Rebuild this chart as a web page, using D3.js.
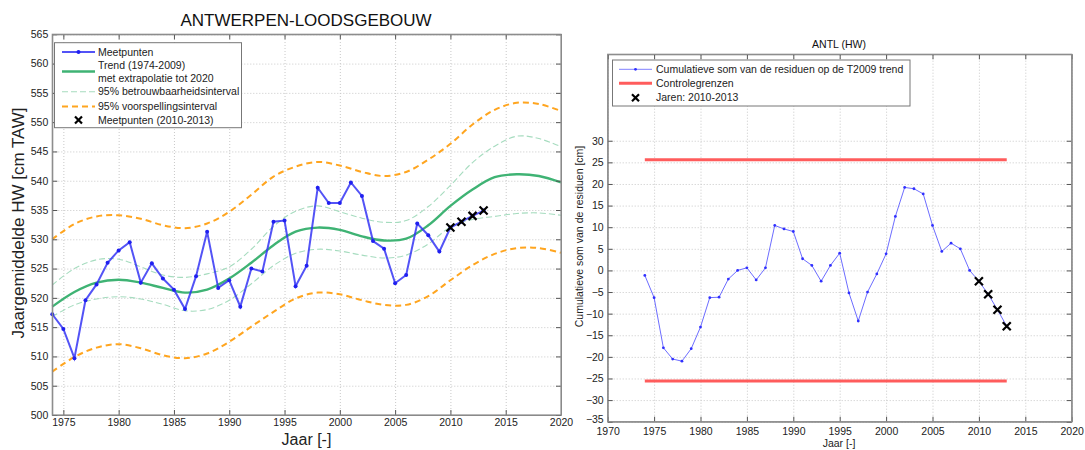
<!DOCTYPE html>
<html><head><meta charset="utf-8">
<script src="https://cdn.jsdelivr.net/npm/d3@7"></script>
<style>
body{margin:0;background:#fff;}
svg{font-family:"Liberation Sans",Arial,sans-serif;}
.grid line{stroke:#c8c8c8;stroke-dasharray:1,2;}
.grid path{display:none;}
.ax path{stroke:#8a8a8a;}
.ax line{stroke:#555;}
.ax text{fill:#222;}
</style></head><body>
<svg id="c" width="1085" height="450"></svg>
<script>
// ---- Left chart data ----
const measYears = [1974,1975,1976,1977,1978,1979,1980,1981,1982,1983,1984,1985,1986,1987,1988,1989,1990,1991,1992,1993,1994,1995,1996,1997,1998,1999,2000,2001,2002,2003,2004,2005,2006,2007,2008,2009,2010,2011,2012,2013];
const measValues = [517.2,514.7,509.7,519.6,522.3,526.0,528.1,529.5,522.6,525.9,523.3,521.4,518.1,523.7,531.3,521.7,523.0,518.5,525.0,524.5,533.0,533.2,522.0,525.5,538.8,536.2,536.2,539.7,537.4,529.7,528.4,522.5,523.9,532.7,530.7,527.9,532.0,533.0,534.0,534.9];
const newYears = [2010,2011,2012,2013];
const newValues = [532.0,533.0,534.0,534.9];
const curveYears = [1974,1976,1978,1980,1982,1984,1986,1988,1990,1992,1994,1996,1998,2000,2002,2004,2006,2008,2010,2012,2014,2016,2018,2020];
const trendValues = [518.5,521.0,522.6,523.1,522.6,521.7,520.9,521.4,523.3,526.0,529.0,531.3,532.0,531.6,530.5,529.8,530.1,532.4,535.7,538.5,540.6,541.1,540.8,539.7];
const ciUpper = [522.2,525.0,526.5,526.6,525.3,523.9,523.5,524.1,525.3,528.3,532.2,534.8,535.7,534.7,533.6,532.9,533.2,535.6,539.2,543.1,545.9,547.6,547.2,545.8];
const ciLower = [516.8,518.8,519.8,520.2,519.8,518.9,517.8,518.0,519.6,522.4,525.5,527.6,528.3,528.0,527.3,526.8,527.3,529.2,532.1,533.4,533.9,534.4,534.5,534.1];
const piUpper = [530.0,532.6,533.9,534.1,533.5,532.4,531.9,532.7,534.7,537.6,540.7,542.4,543.2,542.6,541.5,540.8,541.5,543.6,546.3,549.6,552.1,553.3,553.1,551.9];
const piLower = [507.4,509.9,511.5,512.1,511.4,510.2,509.7,510.5,512.5,515.1,517.6,519.9,520.9,520.6,519.6,518.8,518.8,520.3,523.0,525.6,527.5,528.5,528.5,527.7];
const leftYTicks = [500,505,510,515,520,525,530,535,540,545,550,555,560,565];
const leftXTicks = [1975,1980,1985,1990,1995,2000,2005,2010,2015,2020];

// ---- Right chart data ----
const cusumYears = measYears;
const cusumValues = [-1.15,-6.3,-17.9,-20.5,-21.0,-18.1,-13.1,-6.3,-6.2,-2.0,0.0,0.6,-2.2,0.6,10.4,9.6,9.0,2.7,1.15,-2.5,1.15,4.0,-5.2,-11.7,-5.0,-0.8,3.85,12.5,19.2,18.9,17.7,10.4,4.4,6.3,5.0,0.0,-2.5,-5.5,-9.1,-12.9];
const cusumNewYears = [2010,2011,2012,2013];
const cusumNewValues = [-2.5,-5.5,-9.1,-12.9];
const controlYears = [1974,2013];
const controlLimits = [25.6,-25.6];
const rightYTicks = [-35,-30,-25,-20,-15,-10,-5,0,5,10,15,20,25,30];
const rightXTicks = [1970,1975,1980,1985,1990,1995,2000,2005,2010,2015,2020];

const svg = d3.select("#c");

function frame(g, x, y, xt, yt){
  const [x0,x1] = x.range(), [y0,y1] = y.range();
  g.append("g").attr("class","grid").attr("transform",`translate(0,${y0})`)
    .call(d3.axisBottom(x).tickValues(xt).tickSize(-(y0-y1)).tickFormat(""));
  g.append("g").attr("class","grid").attr("transform",`translate(${x0},0)`)
    .call(d3.axisLeft(y).tickValues(yt).tickSize(-(x1-x0)).tickFormat(""));
}
function axes(g, x, y, xt, yt, fs, xpad){
  const [x0,x1] = x.range(), [y0,y1] = y.range();
  const b = g.append("g").attr("class","ax").attr("transform",`translate(0,${y0})`)
    .call(d3.axisBottom(x).tickValues(xt).tickSizeInner(-5).tickSizeOuter(0).tickPadding(xpad).tickFormat(d3.format("d")));
  b.selectAll("text").style("font-size",fs+"px");
  const l = g.append("g").attr("class","ax").attr("transform",`translate(${x0},0)`)
    .call(d3.axisLeft(y).tickValues(yt).tickSizeInner(-5).tickSizeOuter(0).tickPadding(4));
  l.selectAll("text").style("font-size",fs+"px");
  g.append("g").attr("class","ax").attr("transform",`translate(0,${y1})`)
    .call(d3.axisTop(x).tickValues(xt).tickSizeInner(-5).tickSizeOuter(0).tickFormat(""));
  g.append("g").attr("class","ax").attr("transform",`translate(${x1},0)`)
    .call(d3.axisRight(y).tickValues(yt).tickSizeInner(-5).tickSizeOuter(0).tickFormat(""));
  g.append("rect").attr("x",x0).attr("y",y1).attr("width",x1-x0).attr("height",y0-y1)
    .attr("fill","none").attr("stroke","#8a8a8a").attr("stroke-width",1.2);
  return {b,l};
}

// ===== LEFT =====
const xL = d3.scaleLinear().domain([1974,2020]).range([52.3,561]);
const yL = d3.scaleLinear().domain([500,565]).range([415,34.3]);
const gL = svg.append("g");
frame(gL, xL, yL, leftXTicks, leftYTicks);
const cl = gL.append("g");
const curve = d3.curveCatmullRom.alpha(0.5);
const lineC = (vals) => d3.line().x((d,i)=>xL(curveYears[i])).y(d=>yL(d)).curve(curve)(vals);
[piUpper,piLower].forEach(v=>cl.append("path").attr("d",lineC(v)).attr("fill","none")
  .attr("stroke","#ffa51f").attr("stroke-width",2).attr("stroke-dasharray","6,4"));
[ciUpper,ciLower].forEach(v=>cl.append("path").attr("d",lineC(v)).attr("fill","none")
  .attr("stroke","#a6dcbf").attr("stroke-width",1.1).attr("stroke-dasharray","6,3"));
cl.append("path").attr("d",lineC(trendValues)).attr("fill","none")
  .attr("stroke","#3fb374").attr("stroke-width",2.4);
cl.append("path").attr("d",d3.line().x((d,i)=>xL(measYears[i])).y(d=>yL(d))(measValues))
  .attr("fill","none").attr("stroke","#3535f5").attr("stroke-width",2).attr("stroke-opacity",0.85);
cl.selectAll("circle.m").data(measValues).join("circle").attr("class","m")
  .attr("cx",(d,i)=>xL(measYears[i])).attr("cy",d=>yL(d)).attr("r",2).attr("fill","#2020f0");
function xMark(g, cx, cy, s, w){
  g.append("path").attr("d",`M${cx-s},${cy-s}L${cx+s},${cy+s}M${cx-s},${cy+s}L${cx+s},${cy-s}`)
    .attr("stroke","#000").attr("stroke-width",w).attr("fill","none");
}
newValues.forEach((v,i)=>xMark(cl, xL(newYears[i]), yL(v), 4, 2.2));
axes(gL, xL, yL, leftXTicks, leftYTicks, 10.5, 4);

// left legend
const lg = gL.append("g");
lg.append("rect").attr("x",54.5).attr("y",42.7).attr("width",187).attr("height",85)
  .attr("fill","#fff").attr("stroke","#777").attr("stroke-width",1);
const lx0 = 62, lx1 = 95, tx = 98;
const lt = (y, t) => lg.append("text").attr("x",tx).attr("y",y).attr("dy","0.35em").style("font-size","10.5px").attr("fill","#222").text(t);
lg.append("line").attr("x1",lx0).attr("x2",lx1).attr("y1",52).attr("y2",52).attr("stroke","#3535f5").attr("stroke-width",2).attr("stroke-opacity",0.85);
lg.append("circle").attr("cx",(lx0+lx1)/2).attr("cy",52).attr("r",2).attr("fill","#2020f0");
lt(52,"Meetpunten");
lg.append("line").attr("x1",lx0).attr("x2",lx1).attr("y1",71.5).attr("y2",71.5).attr("stroke","#3fb374").attr("stroke-width",2.4);
lt(65.7,"Trend (1974-2009)"); lt(78.3,"met extrapolatie tot 2020");
lg.append("line").attr("x1",lx0).attr("x2",lx1).attr("y1",91.7).attr("y2",91.7).attr("stroke","#a6dcbf").attr("stroke-width",1.1).attr("stroke-dasharray","6,3");
lt(91.7,"95% betrouwbaarheidsinterval");
lg.append("line").attr("x1",lx0).attr("x2",lx1).attr("y1",106.5).attr("y2",106.5).attr("stroke","#ffa51f").attr("stroke-width",2).attr("stroke-dasharray","6,4");
lt(106.5,"95% voorspellingsinterval");
xMark(lg, (lx0+lx1)/2, 120, 3.5, 2.2);
lt(120,"Meetpunten (2010-2013)");

svg.append("text").attr("x",306).attr("y",26).attr("text-anchor","middle").style("font-size","17px").attr("fill","#111").text("ANTWERPEN-LOODSGEBOUW");
svg.append("text").attr("x",306.5).attr("y",444.5).attr("text-anchor","middle").style("font-size","16px").attr("fill","#222").text("Jaar [-]");
svg.append("text").attr("transform","translate(24,223) rotate(-90)").attr("text-anchor","middle").style("font-size","17px").attr("fill","#222").text("Jaargemiddelde HW [cm TAW]");

// ===== RIGHT =====
const xR = d3.scaleLinear().domain([1970,2020]).range([607.7,1071.7]);
const yR = d3.scaleLinear().domain([-35,50]).range([421.7,54.3]);
const gR = svg.append("g");
frame(gR, xR, yR, rightXTicks, rightYTicks);
const cr = gR.append("g");
controlLimits.forEach(v=>cr.append("line").attr("x1",xR(controlYears[0])).attr("x2",xR(controlYears[1]))
  .attr("y1",yR(v)).attr("y2",yR(v)).attr("stroke","#ff5c5c").attr("stroke-width",3));
cr.append("path").attr("d",d3.line().x((d,i)=>xR(cusumYears[i])).y(d=>yR(d))(cusumValues))
  .attr("fill","none").attr("stroke","#5c5cff").attr("stroke-width",1).attr("stroke-opacity",0.9);
cr.selectAll("circle").data(cusumValues).join("circle")
  .attr("cx",(d,i)=>xR(cusumYears[i])).attr("cy",d=>yR(d)).attr("r",1.4).attr("fill","#3030ff");
cusumNewValues.forEach((v,i)=>xMark(cr, xR(cusumNewYears[i]), yR(v), 4, 2.2));
const rAx = axes(gR, xR, yR, rightXTicks, rightYTicks, 10.5, 6);
// nudge lowest y label up slightly so it clears the first year label
rAx.l.selectAll("text").filter(d=>d===-35).attr("dy","0.1em");

const rg = gR.append("g");
rg.append("rect").attr("x",612.5).attr("y",60).attr("width",297.5).attr("height",46)
  .attr("fill","#fff").attr("stroke","#777").attr("stroke-width",1);
const rl0 = 619, rl1 = 652, rtx = 656;
const rt = (y,t) => rg.append("text").attr("x",rtx).attr("y",y).attr("dy","0.35em").style("font-size","10.5px").attr("fill","#222").text(t);
rg.append("line").attr("x1",rl0).attr("x2",rl1).attr("y1",69.3).attr("y2",69.3).attr("stroke","#8080ff").attr("stroke-width",1);
rg.append("circle").attr("cx",(rl0+rl1)/2).attr("cy",69.3).attr("r",1.4).attr("fill","#3030ff");
rt(69.3,"Cumulatieve som van de residuen op de T2009 trend");
rg.append("line").attr("x1",rl0).attr("x2",rl1).attr("y1",83.3).attr("y2",83.3).attr("stroke","#ff5c5c").attr("stroke-width",3);
rt(83.3,"Controlegrenzen");
xMark(rg, (rl0+rl1)/2, 97.7, 3.5, 2.2);
rt(97.7,"Jaren: 2010-2013");

svg.append("text").attr("x",839).attr("y",47.5).attr("text-anchor","middle").style("font-size","10.5px").attr("fill","#111").text("ANTL (HW)");
svg.append("text").attr("x",839).attr("y",447).attr("text-anchor","middle").style("font-size","10.5px").attr("fill","#222").text("Jaar [-]");
svg.append("text").attr("transform","translate(583,236.5) rotate(-90)").attr("text-anchor","middle").style("font-size","10.5px").attr("fill","#222").text("Cumulatieve som van de residuen [cm]");
</script>
</body></html>
